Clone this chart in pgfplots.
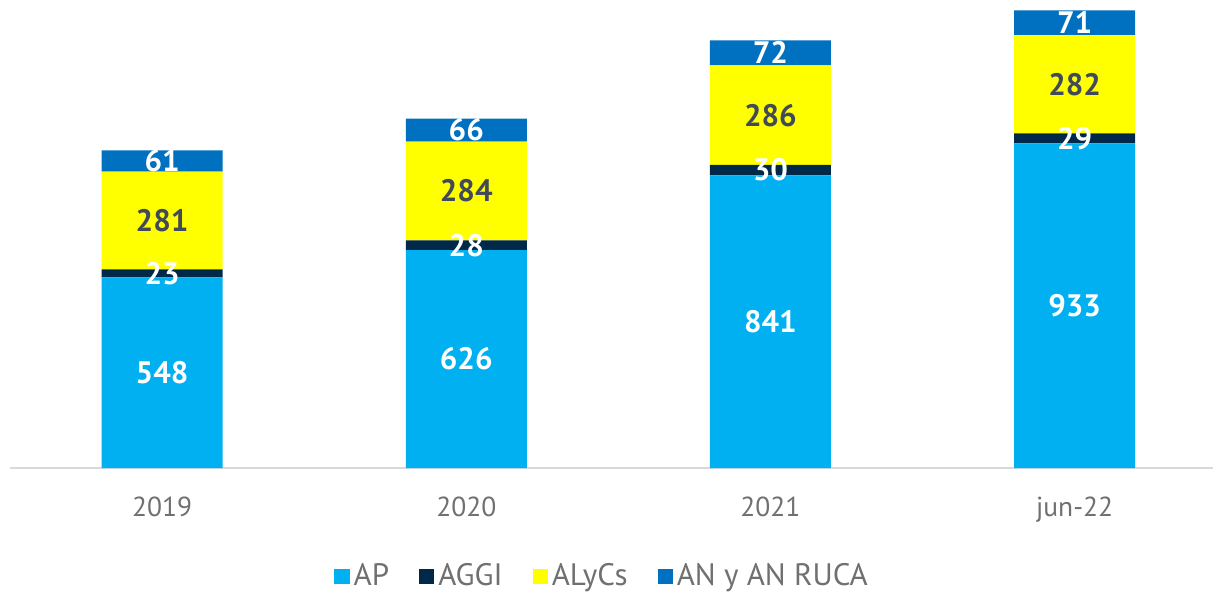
\documentclass[border=0pt]{standalone}
\usepackage{pgfplots}
\pgfplotsset{compat=1.18}
\usepackage{fontspec}
\setmainfont{PT Sans}
\definecolor{cAP}{HTML}{00B0F0}
\definecolor{cAGGI}{HTML}{002849}
\definecolor{cALY}{HTML}{FFFF00}
\definecolor{cAN}{HTML}{0070C0}
\definecolor{tgray}{HTML}{707070}
\definecolor{lgray}{HTML}{404B57}
\definecolor{axgray}{HTML}{D9D9D9}

\pgfplotstableread{
x AP AGGI ALyCs AN
0 548 23 281 61
1 626 28 284 66
2 841 30 286 72
3 933 29 282 71
}\datos

% centros de cada segmento para las etiquetas
\pgfplotstableread{
x y l
0 274 548
1 313 626
2 420.5 841
3 466.5 933
0 559.5 23
1 640 28
2 856 30
3 947.5 29
0 882.5 61
1 971 66
2 1193 72
3 1279.5 71
}\blancos
\pgfplotstableread{
x y l
0 711.5 281
1 796 284
2 1014 286
3 1103 282
}\oscuros

\pgfplotsset{base/.style={
  width=601.5pt, height=234pt, scale only axis,
  xmin=-0.5, xmax=3.455, ymin=0, ymax=1345,
  at={(0,0)}, anchor=south west}}

\begin{document}
\begin{tikzpicture}
\useasboundingbox (-5pt,-63.5pt) rectangle (601.5pt,234pt);
\begin{axis}[base,
  ybar stacked, bar width=60.5pt,
  axis x line*=bottom, axis y line=none,
  x axis line style={axgray, line width=1pt},
  xtick=data, xticklabels={2019,2020,2021,jun-22},
  major tick length=0pt,
  xticklabel style={font=\fontsize{13.75}{16}\selectfont, text=tgray, yshift=-11pt},
  legend columns=4,
  legend style={at={(axis description cs:0.493,-0.231)}, anchor=center,
    draw=none, font=\fontsize{15.5}{17}\selectfont, text=tgray,
    /tikz/every even column/.append style={column sep=13pt}},
  legend image code/.code={\fill[#1] (0pt,-3.8pt) rectangle (7.6pt,3.8pt);},
  legend cell align=left]
\addplot[fill=cAP, draw=none] table[x=x, y=AP] {\datos};
\addlegendentry{AP}
\addplot[fill=cAGGI, draw=none] table[x=x, y=AGGI] {\datos};
\addlegendentry{AGGI}
\addplot[fill=cALY, draw=none] table[x=x, y=ALyCs] {\datos};
\addlegendentry{ALyCs}
\addplot[fill=cAN, draw=none] table[x=x, y=AN] {\datos};
\addlegendentry{AN y AN RUCA}
\end{axis}
\begin{axis}[base, hide axis]
\addplot[only marks, mark=none, nodes near coords, point meta=explicit symbolic,
  every node near coord/.style={anchor=center, text=white,
    font=\fontsize{15.5}{17}\selectfont\bfseries}]
  table[x=x, y=y, meta=l] {\blancos};
\addplot[only marks, mark=none, nodes near coords, point meta=explicit symbolic,
  every node near coord/.style={anchor=center, text=lgray,
    font=\fontsize{15.5}{17}\selectfont\bfseries}]
  table[x=x, y=y, meta=l] {\oscuros};
\end{axis}
\end{tikzpicture}
\end{document}
